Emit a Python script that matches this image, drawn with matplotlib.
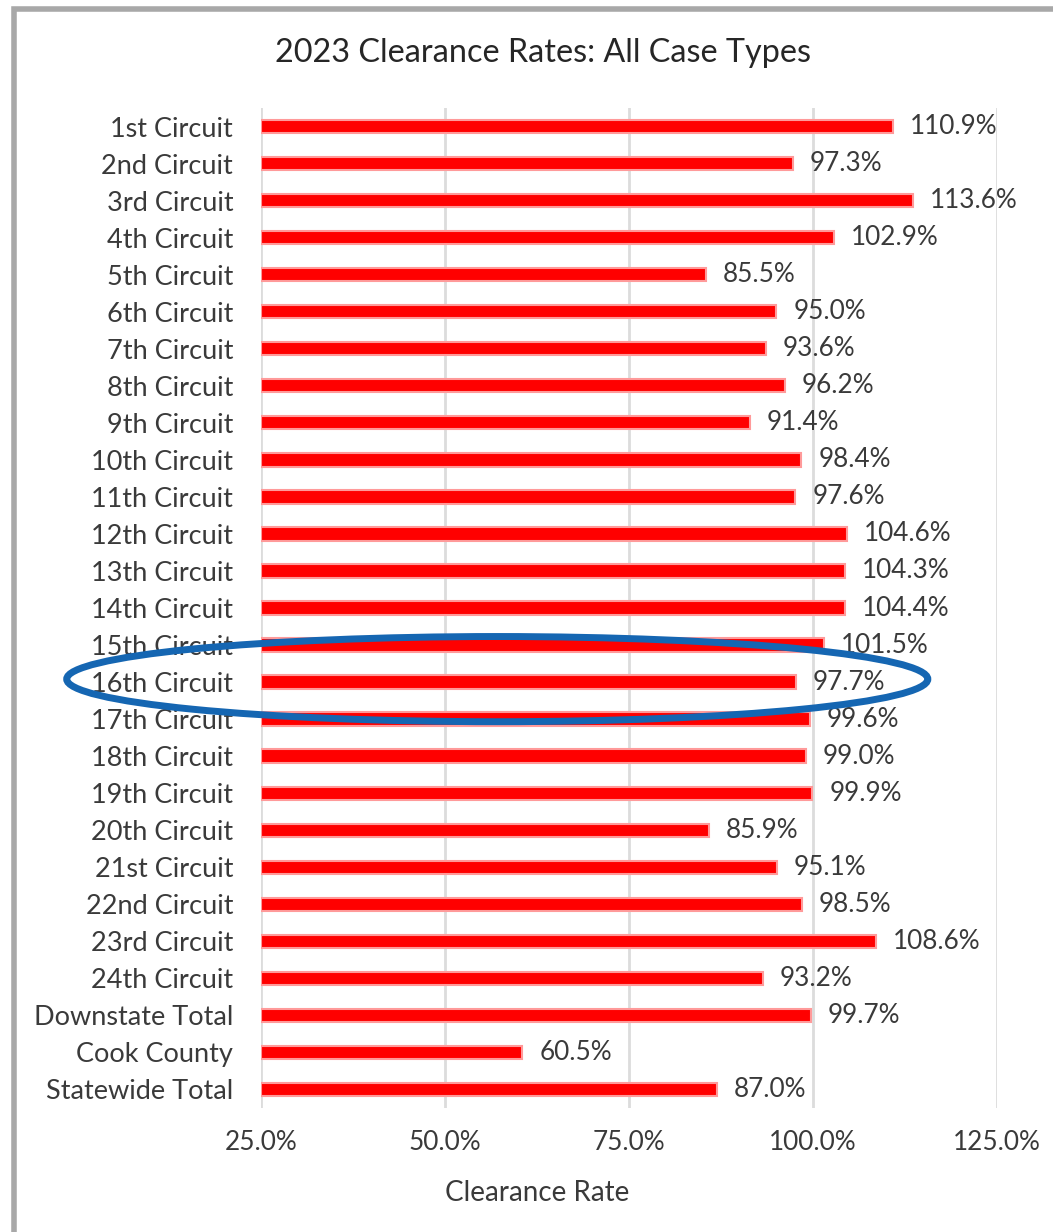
import matplotlib
matplotlib.use("Agg")
import matplotlib.pyplot as plt
from matplotlib.patches import Ellipse, Rectangle
from matplotlib.ticker import FuncFormatter

categories = ["1st Circuit", "2nd Circuit", "3rd Circuit", "4th Circuit", "5th Circuit",
              "6th Circuit", "7th Circuit", "8th Circuit", "9th Circuit", "10th Circuit",
              "11th Circuit", "12th Circuit", "13th Circuit", "14th Circuit", "15th Circuit",
              "16th Circuit", "17th Circuit", "18th Circuit", "19th Circuit", "20th Circuit",
              "21st Circuit", "22nd Circuit", "23rd Circuit", "24th Circuit",
              "Downstate Total", "Cook County", "Statewide Total"]
values = [110.9, 97.3, 113.6, 102.9, 85.5, 95.0, 93.6, 96.2, 91.4, 98.4, 97.6, 104.6,
          104.3, 104.4, 101.5, 97.7, 99.6, 99.0, 99.9, 85.9, 95.1, 98.5, 108.6, 93.2,
          99.7, 60.5, 87.0]
xticks = [25, 50, 75, 100, 125]
highlight = "16th Circuit"

plt.rcParams['font.family'] = ['Lato', 'DejaVu Sans']
txt = '#3a3a3a'

fig = plt.figure(figsize=(10.53, 12.32), dpi=100)
ax = fig.add_axes([261/1053, 1 - 1108/1232, (997-261)/1053, 1000/1232])

y = list(range(len(categories)))
ax.barh(y, [v - 25 for v in values], left=25, height=0.36, color='#ff0000',
        edgecolor='#ff9a9a', linewidth=1.5, zorder=3)
for yi, v in zip(y, values):
    ax.text(v + 2.3, yi, f"{v:.1f}%", va='center', ha='left', fontsize=18.8, color=txt, zorder=4)

ax.set_xlim(25, 125)
ax.set_ylim(len(categories) - 0.5, -0.5)
ax.set_xticks(xticks)
ax.xaxis.set_major_formatter(FuncFormatter(lambda v, p: f"{v:.1f}%"))
ax.set_yticks(y)
ax.set_yticklabels(categories)
ax.tick_params(axis='both', length=0, labelsize=18.8, labelcolor=txt)
ax.tick_params(axis='y', labelsize=19.5, pad=20)
ax.tick_params(axis='x', pad=16)
ax.grid(axis='x', color='#dcdcdc', linewidth=2, zorder=0)
ax.set_axisbelow(True)
for s in ax.spines.values():
    s.set_visible(False)

fig.text(537/1053, 1 - 1193/1232, "Clearance Rate", ha='center', va='center',
         fontsize=20, color=txt)
fig.text(543/1053, 1 - 53/1232, "2023 Clearance Rates: All Case Types", ha='center', va='center',
         fontsize=23.3, color='#262626')

# highlight ellipse around the 16th Circuit row
hi = categories.index(highlight)
ell = Ellipse((57.1, hi - 0.08), width=117, height=2.3, fill=False, edgecolor='#1566b2',
              linewidth=5, clip_on=False, zorder=6)
ax.add_patch(ell)

# screenshot frame (left and top edges)
fig.patches.append(Rectangle((14/1053, -0.1), 1.2, 1 - 9/1232 + 0.1, transform=fig.transFigure,
                             fill=False, edgecolor='#a8a8a8', linewidth=4))

fig.savefig("out.png", dpi=100, facecolor='white')
